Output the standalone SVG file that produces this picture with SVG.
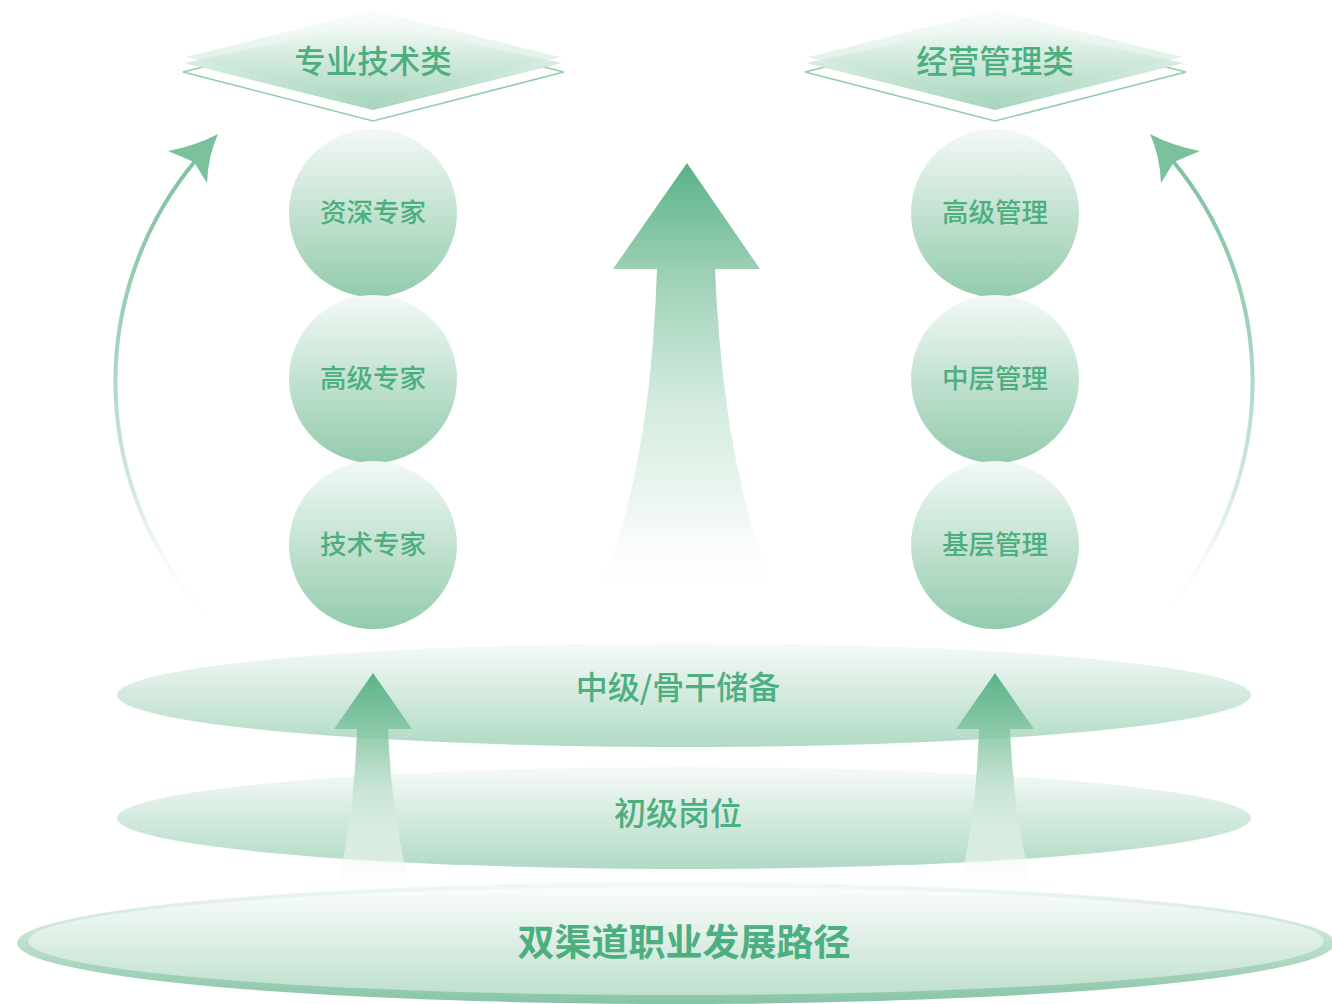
<svg xmlns="http://www.w3.org/2000/svg" width="1332" height="1004" viewBox="0 0 1332 1004">
<style>
.t{font-family:"Noto Sans CJK SC","Noto Sans",sans-serif;fill:#4daf80;text-anchor:middle}
.title{font-size:31.5px;font-weight:500}
.circ{font-size:26.5px;font-weight:500}
.lvl{font-size:32px;font-weight:500}
.main{font-size:37px;font-weight:700}
.outl{fill:#ffffff;stroke:#93ccae;stroke-width:1.5}
</style>
<defs>
<linearGradient id="gDia" x1="0" y1="0" x2="0" y2="1">
<stop offset="0" stop-color="#ffffff"/>
<stop offset="1" stop-color="#a6d5bc"/>
</linearGradient>
<linearGradient id="gDia2" x1="0" y1="0" x2="0" y2="1">
<stop offset="0" stop-color="#f8fcfa" stop-opacity="0.6"/>
<stop offset="1" stop-color="#a6d5bc" stop-opacity="0.6"/>
</linearGradient>
<linearGradient id="gCirc" x1="0" y1="0" x2="0" y2="1">
<stop offset="0" stop-color="#f3f9f6"/>
<stop offset="1" stop-color="#93cbad"/>
</linearGradient>
<linearGradient id="gEll" x1="0" y1="0" x2="0" y2="1">
<stop offset="0" stop-color="#f6faf8"/>
<stop offset="1" stop-color="#b1dac5"/>
</linearGradient>
<linearGradient id="gBase" x1="0" y1="0" x2="0" y2="1">
<stop offset="0" stop-color="#f4faf7"/>
<stop offset="1" stop-color="#86c4a4"/>
</linearGradient>
<linearGradient id="gBaseIn" x1="0" y1="0" x2="0" y2="1">
<stop offset="0" stop-color="#fbfdfc"/>
<stop offset="1" stop-color="#bfe0cf"/>
</linearGradient>
<linearGradient id="gBig" x1="0" y1="163" x2="0" y2="595" gradientUnits="userSpaceOnUse">
<stop offset="0" stop-color="#58b388"/>
<stop offset="0.25" stop-color="#9bd0b5"/>
<stop offset="0.55" stop-color="#d3ebde"/>
<stop offset="0.8" stop-color="#eef7f2"/>
<stop offset="1" stop-color="#ffffff" stop-opacity="0"/>
</linearGradient>
<linearGradient id="gSmall" x1="0" y1="673" x2="0" y2="885" gradientUnits="userSpaceOnUse">
<stop offset="0" stop-color="#58b388"/>
<stop offset="0.3" stop-color="#8ac8a7" stop-opacity="0.9"/>
<stop offset="0.55" stop-color="#c3e2d2" stop-opacity="0.85"/>
<stop offset="1" stop-color="#ffffff" stop-opacity="0.5"/>
</linearGradient>
<linearGradient id="gArc" x1="0" y1="134" x2="0" y2="625" gradientUnits="userSpaceOnUse">
<stop offset="0" stop-color="#78bf9b"/>
<stop offset="0.45" stop-color="#a6d5bd"/>
<stop offset="0.75" stop-color="#d6ece0"/>
<stop offset="1" stop-color="#ffffff" stop-opacity="0"/>
</linearGradient>
</defs>

<g id="base">
<ellipse cx="676" cy="943" rx="659" ry="61" fill="url(#gBase)"/>
<ellipse cx="676" cy="941" rx="648" ry="54" fill="url(#gBaseIn)"/>
<text class="t main" x="684" y="956">双渠道职业发展路径</text>
</g>

<g id="level-junior">
<ellipse cx="684" cy="818" rx="567" ry="51" fill="url(#gEll)"/>
<text class="t lvl" x="678" y="825">初级岗位</text>
</g>

<g id="level-middle">
<ellipse cx="684" cy="695" rx="567" ry="52" fill="url(#gEll)"/>
<text class="t lvl" x="678" y="699">中级/骨干储备</text>
</g>

<g id="connectors">
<path d="M687,163 L760,269 L715,269 Q724,480 777,592 L597,592 Q650,480 657,269 L613,269 Z" fill="url(#gBig)"/>
<path d="M373,673 L412,729 L388,729 Q392,820 410,885 L337,885 Q354,820 357,729 L334,729 Z" fill="url(#gSmall)"/>
<path d="M995,673 L1034,729 L1010,729 Q1014,820 1032,885 L959,885 Q976,820 979,729 L956,729 Z" fill="url(#gSmall)"/>
<path d="M213,622 A345,345 0 0 1 196,160" fill="none" stroke="url(#gArc)" stroke-width="4"/>
<path d="M218,134 Q195,146 168,151 L194,162 L207,183 Q208,156 218,134 Z" fill="#7cc19e"/>
<path d="M1155,622 A345,345 0 0 0 1172,160" fill="none" stroke="url(#gArc)" stroke-width="4"/>
<path d="M1150,134 Q1173,146 1200,151 L1174,162 L1161,183 Q1160,156 1150,134 Z" fill="#7cc19e"/>
</g>

<g id="cat-tech">
<polygon class="outl" points="373,24 564,72 373,121 183,72"/>
<polygon points="373,23 562,63 373,110 184,63" fill="url(#gDia)"/>
<polygon points="373,10 560,57 373,104 186,57" fill="url(#gDia2)"/>
<text class="t title" x="373" y="73">专业技术类</text>
</g>

<g id="cat-mgmt">
<polygon class="outl" points="995,24 1186,72 995,121 805,72"/>
<polygon points="995,23 1184,63 995,110 806,63" fill="url(#gDia)"/>
<polygon points="995,10 1182,57 995,104 808,57" fill="url(#gDia2)"/>
<text class="t title" x="995" y="73">经营管理类</text>
</g>

<g id="tech-senior">
<circle cx="373" cy="213" r="84" fill="url(#gCirc)"/>
<text class="t circ" x="373" y="222">资深专家</text>
</g>
<g id="tech-high">
<circle cx="373" cy="379" r="84" fill="url(#gCirc)"/>
<text class="t circ" x="373" y="388">高级专家</text>
</g>
<g id="tech-expert">
<circle cx="373" cy="545" r="84" fill="url(#gCirc)"/>
<text class="t circ" x="373" y="554">技术专家</text>
</g>

<g id="mgmt-senior">
<circle cx="995" cy="213" r="84" fill="url(#gCirc)"/>
<text class="t circ" x="995" y="222">高级管理</text>
</g>
<g id="mgmt-middle">
<circle cx="995" cy="379" r="84" fill="url(#gCirc)"/>
<text class="t circ" x="995" y="388">中层管理</text>
</g>
<g id="mgmt-base">
<circle cx="995" cy="545" r="84" fill="url(#gCirc)"/>
<text class="t circ" x="995" y="554">基层管理</text>
</g>
</svg>
